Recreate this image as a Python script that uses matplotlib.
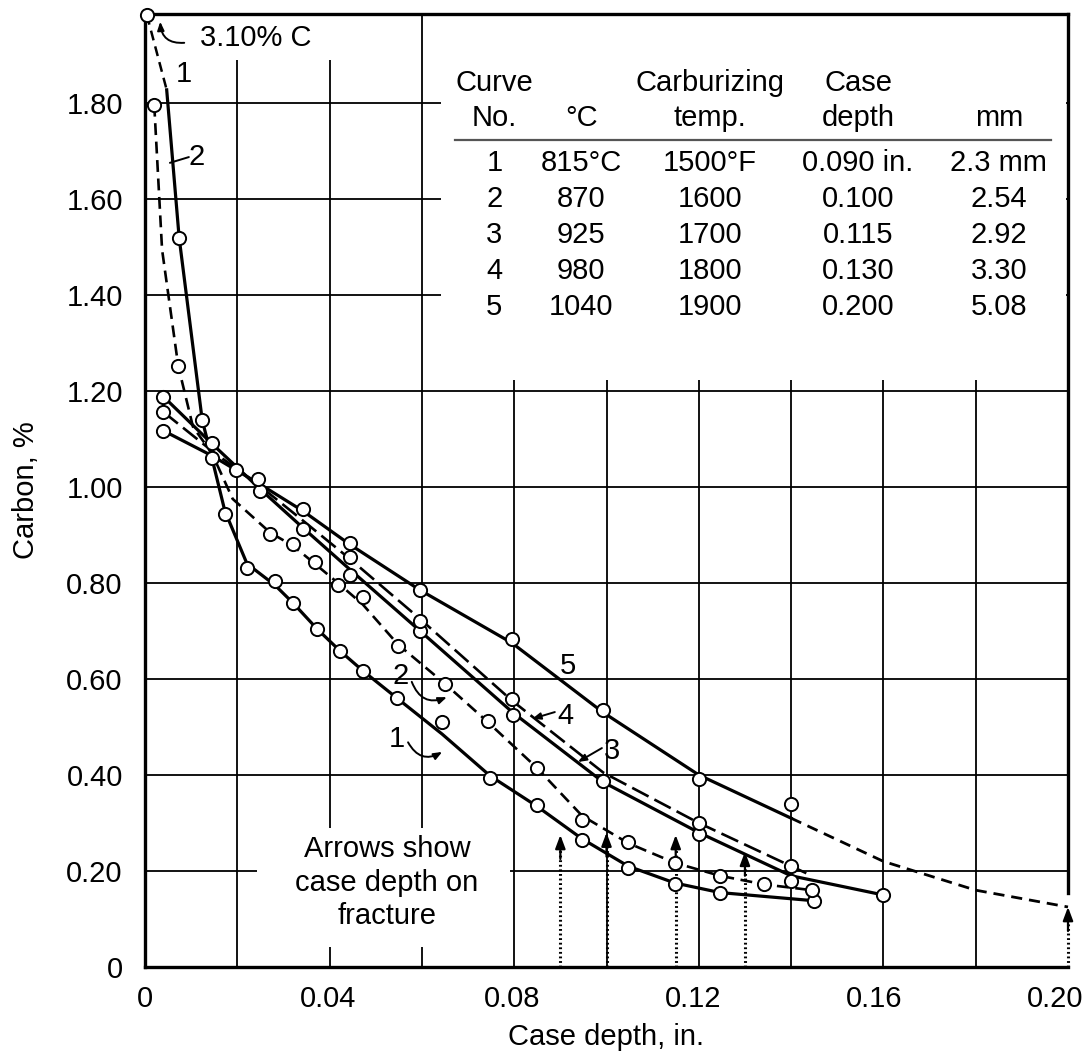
import matplotlib.pyplot as plt
import matplotlib.transforms as mtransforms
from matplotlib.patches import Rectangle

plt.rcParams['font.family'] = ['Liberation Sans', 'DejaVu Sans']
fs = 21

# axis ticks
x_ticks = [0, 0.02, 0.04, 0.06, 0.08, 0.10, 0.12, 0.14, 0.16, 0.18, 0.20]
x_labels = ['0', '', '0.04', '', '0.08', '', '0.12', '', '0.16', '', '0.20']
y_ticks = [0, 0.2, 0.4, 0.6, 0.8, 1.0, 1.2, 1.4, 1.6, 1.8]
y_labels = ['0', '0.20', '0.40', '0.60', '0.80', '1.00', '1.20', '1.40', '1.60', '1.80']

# curve 1 - 815 C (surface 3.10 % C, off scale)
c1_surf_x, c1_surf_y = 0.0004, 1.983
c1_line_x = [0.0047, 0.0074, 0.0124, 0.0145, 0.0173, 0.0221, 0.0282, 0.0321, 0.0373, 0.0423,
             0.0472, 0.0546, 0.0644, 0.0748, 0.0849, 0.0947, 0.1047, 0.1148, 0.1246, 0.145]
c1_line_y = [1.827, 1.519, 1.139, 1.06, 0.95, 0.84, 0.795, 0.758, 0.704, 0.658,
             0.617, 0.56, 0.485, 0.398, 0.335, 0.267, 0.21, 0.175, 0.155, 0.138]
c1_pts_x = [0.0074, 0.0124, 0.0173, 0.0221, 0.0282, 0.0321, 0.0373, 0.0423, 0.0472, 0.0546,
            0.0644, 0.0748, 0.0849, 0.0947, 0.1047, 0.1148, 0.1246, 0.145]
c1_pts_y = [1.519, 1.139, 0.943, 0.832, 0.804, 0.758, 0.704, 0.658, 0.617, 0.561,
            0.511, 0.394, 0.337, 0.264, 0.206, 0.172, 0.155, 0.137]

# curve 2 - 870 C
c2_line_x = [0.0020, 0.0037, 0.0072, 0.0104, 0.0145, 0.0190, 0.0271, 0.0321, 0.0368, 0.0418,
             0.0472, 0.0548, 0.065, 0.0743, 0.0849, 0.0947, 0.1047, 0.1148, 0.1246, 0.1342, 0.1445]
c2_line_y = [1.796, 1.494, 1.252, 1.125, 1.07, 0.975, 0.905, 0.877, 0.84, 0.80,
             0.755, 0.672, 0.59, 0.51, 0.415, 0.315, 0.258, 0.217, 0.19, 0.172, 0.16]
c2_pts_x = [0.0020, 0.0072, 0.0145, 0.0271, 0.0321, 0.0368, 0.0418, 0.0472, 0.0548, 0.065,
            0.0743, 0.0849, 0.0947, 0.1047, 0.1148, 0.1246, 0.1342, 0.1445]
c2_pts_y = [1.796, 1.252, 1.06, 0.902, 0.881, 0.843, 0.796, 0.77, 0.669, 0.59,
            0.513, 0.415, 0.306, 0.26, 0.217, 0.19, 0.172, 0.16]

# curve 3 - 925 C
c3_line_x = [0.004, 0.0145, 0.025, 0.0342, 0.0444, 0.0596, 0.0797, 0.0993, 0.12, 0.14, 0.16]
c3_line_y = [1.188, 1.09, 0.995, 0.915, 0.828, 0.70, 0.53, 0.385, 0.28, 0.19, 0.15]
c3_pts_x = [0.004, 0.0145, 0.025, 0.0342, 0.0444, 0.0596, 0.0797, 0.0993, 0.12, 0.14, 0.16]
c3_pts_y = [1.188, 1.091, 0.991, 0.913, 0.817, 0.70, 0.525, 0.388, 0.277, 0.18, 0.15]

# curve 4 - 980 C
c4_line_x = [0.004, 0.0145, 0.0245, 0.0342, 0.0444, 0.0596, 0.0795, 0.0993, 0.12, 0.14, 0.1445]
c4_line_y = [1.156, 1.075, 1.005, 0.93, 0.85, 0.725, 0.555, 0.405, 0.30, 0.21, 0.19]
c4_pts_x = [0.004, 0.0245, 0.0444, 0.0596, 0.0795, 0.12, 0.14]
c4_pts_y = [1.156, 1.016, 0.853, 0.72, 0.559, 0.30, 0.21]

# curve 5 - 1040 C (dashed beyond 0.14 in.)
c5_line_x = [0.004, 0.0145, 0.025, 0.0342, 0.0444, 0.0596, 0.0795, 0.0993, 0.12, 0.14]
c5_line_y = [1.117, 1.065, 1.005, 0.95, 0.88, 0.785, 0.675, 0.53, 0.40, 0.31]
c5_ext_x = [0.14, 0.16, 0.18, 0.20]
c5_ext_y = [0.31, 0.22, 0.16, 0.125]
c5_pts_x = [0.004, 0.0197, 0.0342, 0.0444, 0.0596, 0.0795, 0.0993, 0.12, 0.14]
c5_pts_y = [1.117, 1.036, 0.953, 0.883, 0.785, 0.683, 0.535, 0.392, 0.34]

# case depth on fracture (arrows)
arrow_x = [0.090, 0.100, 0.115, 0.130, 0.200]
arrow_tip = [0.275, 0.28, 0.275, 0.24, 0.125]

# table
tbl_cols = [0.0757, 0.0945, 0.1224, 0.1545, 0.185]
header1 = ['Curve', '', 'Carburizing', 'Case', '']
header2 = ['No.', '°C', 'temp.', 'depth', 'mm']
curve_no = ['1', '2', '3', '4', '5']
temp_c = ['815°C', '870', '925', '980', '1040']
temp_f = ['1500°F', '1600', '1700', '1800', '1900']
depth_in = ['0.090 in.', '0.100', '0.115', '0.130', '0.200']
depth_mm = ['2.3 mm', '2.54', '2.92', '3.30', '5.08']

fig = plt.figure(figsize=(10.88, 10.56), dpi=100)
ax = fig.add_axes([145 / 1088, 89 / 1056, 923 / 1088, 953 / 1056])
ax.set_xlim(0, 0.20)
ax.set_ylim(0, 1.985)

ax.set_xticks(x_ticks)
ax.set_xticklabels(x_labels)
ax.set_yticks(y_ticks)
ax.set_yticklabels(y_labels)
ax.tick_params(length=0, labelsize=fs)
ax.tick_params(axis='y', pad=16)
ax.tick_params(axis='x', pad=13)

# labels on the right sit a little to the left of their grid line
shifts = [0, 0, -2, 0, -2, 0, -6, 0, -9, 0, -13]
for lab, dx in zip(ax.get_xticklabels(), shifts):
    lab.set_transform(lab.get_transform() + mtransforms.ScaledTranslation(dx / 100, 0, fig.dpi_scale_trans))

# grid drawn by hand so the frame edge stays free
ax.vlines(x_ticks[1:-1], 0, 1.985, color='k', lw=1.3, zorder=0.5)
ax.hlines(y_ticks[1:], 0, 0.20, color='k', lw=1.3, zorder=0.5)

for s in ax.spines.values():
    s.set_linewidth(2.4)
ax.spines['right'].set_bounds(0.154, 1.985)

# white areas behind the texts
ax.add_patch(Rectangle((0.0641, 1.223), 0.1354, 0.76, facecolor='white', edgecolor='none', zorder=1))
ax.add_patch(Rectangle((0.0243, 0.042), 0.0547, 0.248, facecolor='white', edgecolor='none', zorder=1))
ax.add_patch(Rectangle((0.0095, 1.89), 0.032, 0.094, facecolor='white', edgecolor='none', zorder=1))

mk = dict(ls='none', marker='o', ms=9.5, mfc='white', mec='k', mew=1.4, zorder=5)

# curve 1
ax.plot([c1_surf_x, c1_line_x[0]], [c1_surf_y, c1_line_y[0]], color='k', lw=1.8,
        dashes=(4, 2.5), zorder=3)
ax.plot(c1_line_x, c1_line_y, color='k', lw=2.3, zorder=3)
ax.plot(c1_pts_x, c1_pts_y, **mk)
ax.plot([c1_surf_x], [c1_surf_y], clip_on=False, **mk)

# curve 2
ax.plot(c2_line_x, c2_line_y, color='k', lw=1.9, dashes=(4.5, 2.5), zorder=3)
ax.plot(c2_pts_x, c2_pts_y, **mk)

# curve 3
ax.plot(c3_line_x, c3_line_y, color='k', lw=2.3, zorder=3)
ax.plot(c3_pts_x, c3_pts_y, **mk)

# curve 4
ax.plot(c4_line_x, c4_line_y, color='k', lw=1.9, dashes=(7, 2.5), zorder=3)
ax.plot(c4_pts_x, c4_pts_y, **mk)

# curve 5
ax.plot(c5_line_x, c5_line_y, color='k', lw=2.3, zorder=3)
ax.plot(c5_ext_x, c5_ext_y, color='k', lw=2.0, dashes=(4, 2.5), zorder=3, clip_on=False)
ax.plot(c5_pts_x, c5_pts_y, **mk)

# arrows for case depth on fracture
for xa, ya in zip(arrow_x, arrow_tip):
    ax.plot([xa, xa], [0, ya - 0.02], color='k', lw=2.2, ls=(0, (0.6, 0.9)), zorder=2, clip_on=False)
    ax.annotate('', xy=(xa, ya), xytext=(xa, ya - 0.05),
                arrowprops=dict(arrowstyle='-|>,head_length=0.8,head_width=0.3', color='k',
                                lw=1.6, shrinkA=0, shrinkB=0), zorder=4, annotation_clip=False)

ax.text(0.0524, 0.175, 'Arrows show\ncase depth on\nfracture', ha='center', va='center',
        fontsize=fs, linespacing=1.25, zorder=2)

# curve labels
ax.text(0.0085, 1.86, '1', fontsize=fs, ha='center', va='center', zorder=2)
ax.text(0.0112, 1.688, '2', fontsize=fs, ha='center', va='center', zorder=2)
ax.annotate('', xy=(0.0054, 1.675), xytext=(0.0095, 1.687),
            arrowprops=dict(arrowstyle='-', color='k', lw=1.4, shrinkA=0, shrinkB=0))
ax.text(0.0119, 1.935, '3.10% C', fontsize=fs, ha='left', va='center', zorder=2)
ax.annotate('', xy=(0.0033, 1.969), xytext=(0.0085, 1.925),
            arrowprops=dict(arrowstyle='-|>,head_length=0.5,head_width=0.2', color='k', lw=1.4,
                            connectionstyle='arc3,rad=-0.5', shrinkA=0, shrinkB=0))

ax.text(0.0553, 0.606, '2', fontsize=fs, ha='center', va='center', zorder=2)
ax.annotate('', xy=(0.0654, 0.562), xytext=(0.0578, 0.594),
            arrowprops=dict(arrowstyle='-|>,head_length=0.5,head_width=0.2', color='k', lw=1.4,
                            connectionstyle='arc3,rad=0.5', shrinkA=0, shrinkB=0))
ax.text(0.0546, 0.475, '1', fontsize=fs, ha='center', va='center', zorder=2)
ax.annotate('', xy=(0.0644, 0.448), xytext=(0.0570, 0.468),
            arrowprops=dict(arrowstyle='-|>,head_length=0.5,head_width=0.2', color='k', lw=1.4,
                            connectionstyle='arc3,rad=0.5', shrinkA=0, shrinkB=0))
ax.text(0.0912, 0.522, '4', fontsize=fs, ha='center', va='center', zorder=2)
ax.annotate('', xy=(0.0839, 0.517), xytext=(0.0888, 0.531),
            arrowprops=dict(arrowstyle='-|>,head_length=0.5,head_width=0.2', color='k', lw=1.4,
                            shrinkA=0, shrinkB=0))
ax.text(0.1012, 0.450, '3', fontsize=fs, ha='center', va='center', zorder=2)
ax.annotate('', xy=(0.0938, 0.427), xytext=(0.0990, 0.456),
            arrowprops=dict(arrowstyle='-|>,head_length=0.5,head_width=0.2', color='k', lw=1.4,
                            shrinkA=0, shrinkB=0))
ax.text(0.0917, 0.627, '5', fontsize=fs, ha='center', va='center', zorder=2)

# table
for cx, h1, h2 in zip(tbl_cols, header1, header2):
    ax.text(cx, 1.842, h1, fontsize=fs, ha='center', va='center', zorder=2)
    ax.text(cx, 1.769, h2, fontsize=fs, ha='center', va='center', zorder=2)
ax.plot([0.0672, 0.1963], [1.723, 1.723], color='#555555', lw=1.6, zorder=2)
for i in range(len(curve_no)):
    yy = 1.675 - i * 0.075
    row = [curve_no[i], temp_c[i], temp_f[i], depth_in[i], depth_mm[i]]
    for cx, t in zip(tbl_cols, row):
        ax.text(cx, yy, t, fontsize=fs, ha='center', va='center', zorder=2)

fig.text(26 / 1088, 1 - 490 / 1056, 'Carbon, %', rotation=90, ha='center', va='center', fontsize=fs)
fig.text(606 / 1088, 1 - 1037 / 1056, 'Case depth, in.', ha='center', va='center', fontsize=fs)

fig.savefig('out.png', dpi=100)
